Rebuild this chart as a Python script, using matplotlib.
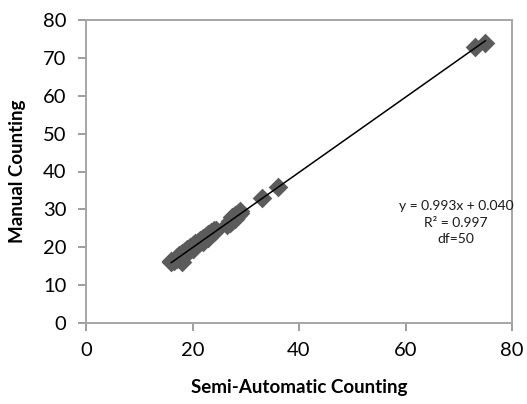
import numpy as np
import matplotlib.pyplot as plt

# semi-automatic vs manual counts
semi = [16, 16, 16.5, 17, 17, 17.5, 17.5, 18, 18, 18.5, 18.5, 19, 19, 19.5,
        19.5, 20, 20, 20.5, 20.5, 21, 21, 21.5, 21.5, 22, 22, 22.5, 22.5, 23,
        23, 23.5, 23.5, 24, 24, 24.5, 26.5, 27, 27, 27.5, 27.5, 28, 28, 28.5,
        28.5, 29, 29, 18, 20, 22, 33, 36, 73, 75]
manual = [16, 16.5, 16.5, 17, 17.5, 17.5, 18, 17.5, 18.5, 18, 19, 19, 19.5, 19.5,
          20, 19.5, 20.5, 20.5, 21, 21, 21.5, 21.5, 22, 22, 22.5, 22.5, 23, 22.5,
          23.5, 23.5, 24, 24, 24.5, 24.5, 26, 26.5, 27, 27, 28, 27.5, 28.5, 28.5,
          29, 29, 29.5, 16, 19.5, 21.5, 33, 36, 73, 74]
slope = 0.993
intercept = 0.040
eq_text = "y = 0.993x + 0.040\nR² = 0.997\ndf=50"
xticks = [0, 20, 40, 60, 80]
yticks = [0, 10, 20, 30, 40, 50, 60, 70, 80]

plt.rcParams['font.family'] = ['Lato', 'DejaVu Sans']

fig = plt.figure(figsize=(5.27, 4.04), dpi=100)
ax = fig.add_axes([86/527, 1 - 323/404, (512-86)/527, (323-20)/404])

ax.scatter(semi, manual, marker='D', s=100, color='#5b5b5b', zorder=2, linewidths=0)
xs = np.array([min(semi), max(semi)])
ax.plot(xs, slope*xs + intercept, color='black', lw=1.1, zorder=3)

ax.set_xlim(0, 80)
ax.set_ylim(0, 80)
ax.set_xticks(xticks)
ax.set_yticks(yticks)
ax.tick_params(labelsize=14.5, length=6, width=1.2, color='#8c8c8c', pad=8)
for s in ax.spines.values():
    s.set_color('#a6a6a6')
    s.set_linewidth(1.4)

ax.set_xlabel("Semi-Automatic Counting", fontsize=13.5, fontweight='bold', labelpad=14)
ax.set_ylabel("Manual Counting", fontsize=13.5, fontweight='bold', labelpad=12)

ax.text(69.5, 26.5, eq_text, ha='center', va='center', fontsize=10,
        linespacing=1.45, color='#1a1a1a')

fig.savefig("out.png", dpi=100)
